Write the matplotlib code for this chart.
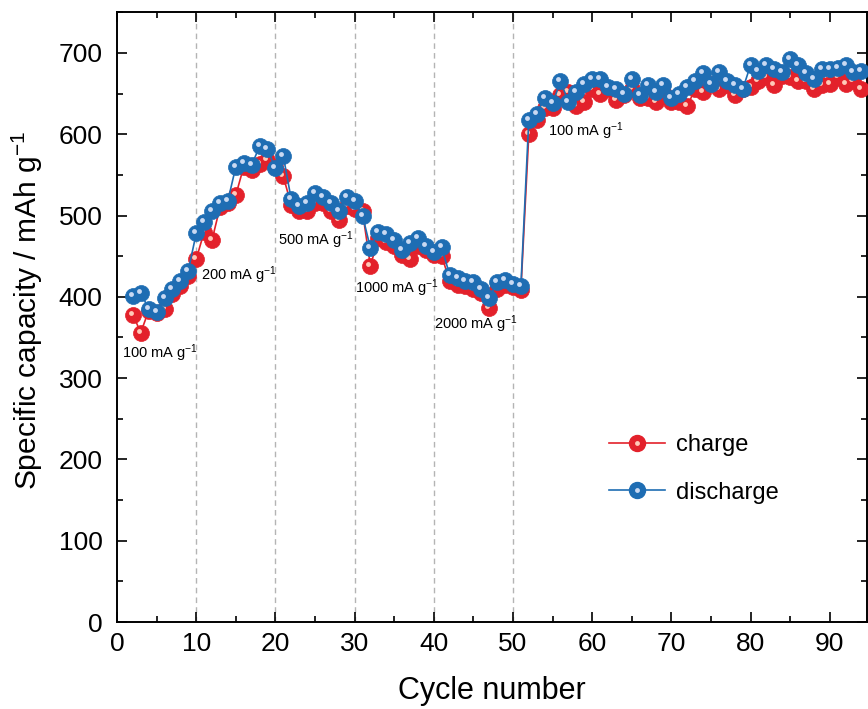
import matplotlib
matplotlib.use("Agg")
import matplotlib.pyplot as plt
import matplotlib.transforms as mtransforms
from matplotlib.lines import Line2D
from matplotlib.legend_handler import HandlerTuple
from matplotlib.ticker import MultipleLocator

cycles = list(range(2, 95))

charge = [378, 356, 383, 380, 385, 403, 413, 425, 446, 480,
          470, 510, 515, 525, 560, 556, 563, 568, 560, 548,
          513, 505, 505, 515, 515, 505, 495, 512, 508, 505,
          438, 472, 468, 462, 452, 447, 462, 458, 452, 450,
          420, 415, 413, 410, 405, 386, 410, 415, 412, 408,
          600, 618, 632, 632, 648, 652, 635, 640, 655, 650,
          655, 642, 648, 655, 645, 645, 640, 652, 640, 640,
          635, 655, 652, 662, 655, 660, 648, 655, 658, 665,
          670, 660, 672, 670, 665, 665, 655, 660, 662, 670,
          662, 665, 655]

discharge = [401, 405, 385, 381, 398, 410, 420, 432, 478, 492,
             505, 515, 518, 560, 565, 562, 585, 582, 558, 573,
             520, 512, 515, 528, 523, 515, 506, 523, 518, 500,
             460, 480, 477, 470, 458, 466, 472, 462, 455, 461,
             427, 423, 420, 418, 410, 398, 418, 421, 416, 413,
             618, 625, 645, 638, 665, 640, 652, 662, 668, 668,
             658, 655, 650, 668, 648, 660, 652, 660, 645, 650,
             658, 665, 675, 662, 676, 665, 660, 655, 685, 678,
             685, 680, 677, 692, 685, 675, 668, 680, 680, 682,
             685, 677, 678]

rate_labels = ["100 mA g$^{-1}$", "200 mA g$^{-1}$", "500 mA g$^{-1}$",
               "1000 mA g$^{-1}$", "2000 mA g$^{-1}$", "100 mA g$^{-1}$"]
rate_label_x = [0.6, 10.6, 20.3, 30.0, 40.0, 54.4]
rate_label_y = [331, 426, 470, 410, 366, 604]
rate_boundaries = [10, 20, 30, 40, 50]

plt.rcParams['font.family'] = ['Liberation Sans', 'DejaVu Sans']
plt.rcParams['mathtext.fontset'] = 'custom'
plt.rcParams['mathtext.rm'] = 'Liberation Sans'
plt.rcParams['mathtext.it'] = 'Liberation Sans:italic'

fig = plt.figure(figsize=(8.68, 7.09), dpi=100)
ax = fig.add_axes([0.1348, 0.1227, 0.864, 0.860])

red = '#e3212b'
red_hi = '#ffc9b8'
blue = '#1e6db3'
blue_hi = '#c9d9f2'

for xb in rate_boundaries:
    ax.axvline(xb, color='#b4b4b4', linestyle=(0, (4, 3)), linewidth=1.0, zorder=1)

hl = mtransforms.offset_copy(ax.transData, fig=fig, x=-2, y=2, units='dots')

ax.plot(cycles, charge, color=red, linewidth=1.2, marker='o', markersize=11.5,
        markerfacecolor=red, markeredgecolor=red, markeredgewidth=0.5, zorder=3)
ax.plot(cycles, charge, linestyle='none', marker='o', markersize=3.5,
        markerfacecolor=red_hi, markeredgewidth=0, transform=hl, zorder=3.1)
ax.plot(cycles, discharge, color=blue, linewidth=1.2, marker='o', markersize=11.5,
        markerfacecolor=blue, markeredgecolor=blue, markeredgewidth=0.5, zorder=4)
ax.plot(cycles, discharge, linestyle='none', marker='o', markersize=3.5,
        markerfacecolor=blue_hi, markeredgewidth=0, transform=hl, zorder=4.1)

for t, x, y in zip(rate_labels, rate_label_x, rate_label_y):
    ax.text(x, y, t, fontsize=10.5, va='center', ha='left', zorder=5)

ax.set_xlim(0, 94.7)
ax.set_ylim(0, 750)
ax.xaxis.set_major_locator(MultipleLocator(10))
ax.xaxis.set_minor_locator(MultipleLocator(5))
ax.yaxis.set_major_locator(MultipleLocator(100))
ax.yaxis.set_minor_locator(MultipleLocator(50))
ax.tick_params(which='both', direction='in', top=True, right=True, width=1.2)
ax.tick_params(which='major', length=7)
ax.tick_params(which='minor', length=4)
ax.tick_params(axis='x', labelsize=19, pad=7)
ax.tick_params(axis='y', labelsize=19, pad=10.5)
for s in ax.spines.values():
    s.set_linewidth(1.4)

ax.set_xlabel('Cycle number', fontsize=22)
ax.set_ylabel('Specific capacity / mAh g$^{-1}$', fontsize=21.5)
ax.xaxis.set_label_coords(0.5, -0.088)
ax.yaxis.set_label_coords(-0.096, 0.51)

h_c = (Line2D([], [], color=red, linewidth=1.2, marker='o', markersize=11.5,
              markerfacecolor=red, markeredgecolor=red),
       Line2D([], [], linestyle='none', marker='o', markersize=3.5,
              markerfacecolor=red_hi, markeredgewidth=0))
h_d = (Line2D([], [], color=blue, linewidth=1.2, marker='o', markersize=11.5,
              markerfacecolor=blue, markeredgecolor=blue),
       Line2D([], [], linestyle='none', marker='o', markersize=3.5,
              markerfacecolor=blue_hi, markeredgewidth=0))
ax.legend([h_c, h_d], ['charge', 'discharge'],
          handler_map={tuple: HandlerTuple(ndivide=1)},
          loc='upper left', bbox_to_anchor=(0.628, 0.343), frameon=False,
          fontsize=17, handlelength=2.37, handletextpad=0.47, labelspacing=1.08)

fig.savefig('out.png', dpi=100)
